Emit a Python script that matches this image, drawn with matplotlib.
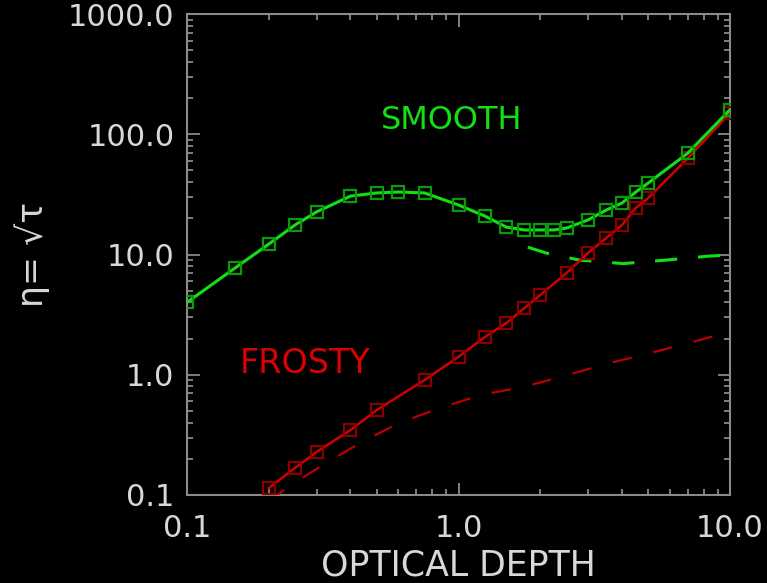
import matplotlib
matplotlib.use("Agg")
import matplotlib.pyplot as plt
from matplotlib.ticker import LogLocator, NullFormatter

# ---- data ----
tau_smooth = [0.1, 0.15, 0.2, 0.25, 0.3, 0.4, 0.5, 0.6, 0.75, 1.0, 1.25, 1.5,
              1.75, 2.0, 2.25, 2.5, 3.0, 3.5, 4.0, 4.5, 5.0, 7.0, 10.0]
eta_smooth = [4.0, 7.7, 12.2, 17.6, 22.6, 30.6, 32.5, 33.1, 32.5, 25.8, 20.9, 16.9,
              16.0, 16.0, 16.0, 16.6, 19.4, 23.4, 26.8, 33.1, 39.3, 69.8, 160.0]

tau_smooth_dash = [1.8, 2.1, 2.78, 4.04, 5.86, 8.37, 10.0]
eta_smooth_dash = [11.5, 10.3, 9.0, 8.4, 9.0, 9.7, 9.9]

tau_frosty = [0.2, 0.25, 0.3, 0.4, 0.5, 0.75, 1.0, 1.25, 1.5, 1.75, 2.0, 2.5,
              3.0, 3.5, 4.0, 4.5, 5.0, 7.0, 10.0]
eta_frosty = [0.114, 0.168, 0.228, 0.347, 0.509, 0.904, 1.41, 2.06, 2.69, 3.59,
              4.60, 7.02, 10.3, 13.7, 17.6, 24.4, 29.5, 63.4, 150.0]

tau_frosty_dash = [0.2, 0.236, 0.317, 0.434, 0.604, 0.855, 1.21, 1.73, 2.45,
                   3.49, 4.94, 7.06, 10.0]
eta_frosty_dash = [0.088, 0.117, 0.178, 0.271, 0.397, 0.529, 0.679, 0.791, 0.976,
                   1.23, 1.49, 1.84, 2.28]

x_ticks = [0.1, 1.0, 10.0]
x_tick_labels = ["0.1", "1.0", "10.0"]
y_ticks = [0.1, 1.0, 10.0, 100.0, 1000.0]
y_tick_labels = ["0.1", "1.0", "10.0", "100.0", "1000.0"]

# ---- style ----
plt.rcParams["lines.scale_dashes"] = False
bg = "black"
axis_col = "#8a8a8a"
text_col = "#d8d8d8"
green = "#12e012"
green_dark = "#0a9a0a"
red = "#d00000"
red_dark = "#8a0000"

fig = plt.figure(figsize=(7.67, 5.83), dpi=100, facecolor=bg)
ax = fig.add_axes([187/767, 88/583, 543/767, 481/583], facecolor=bg)
ax.set_xscale("log")
ax.set_yscale("log")
ax.set_xlim(0.1, 10.0)
ax.set_ylim(0.1, 1000.0)

ax.plot(tau_smooth, eta_smooth, color=green, lw=2.2, marker="s", ms=9,
        mfc="none", mec=green_dark, mew=1.6, zorder=4)
ax.plot(tau_smooth_dash, eta_smooth_dash, color=green, lw=2.2,
        linestyle=(0, (16, 15)), zorder=3)
ax.plot(tau_frosty, eta_frosty, color=red, lw=1.8, marker="s", ms=9,
        mfc="none", mec=red_dark, mew=1.6, zorder=3)
ax.plot(tau_frosty_dash, eta_frosty_dash, color="#b80000", lw=1.6,
        linestyle=(0, (14, 16)), zorder=3)

ax.text(0.946, 131, "SMOOTH", color=green, fontsize=23, ha="center", va="center")
ax.text(0.272, 1.25, "FROSTY", color="#dd0000", fontsize=24, ha="center", va="center")

for s in ax.spines.values():
    s.set_color(axis_col)
    s.set_linewidth(1.5)

ax.set_xticks(x_ticks)
ax.set_xticklabels(x_tick_labels)
ax.set_yticks(y_ticks)
ax.set_yticklabels(y_tick_labels)
ax.xaxis.set_minor_locator(LogLocator(base=10, subs=range(2, 10)))
ax.yaxis.set_minor_locator(LogLocator(base=10, subs=range(2, 10)))
ax.xaxis.set_minor_formatter(NullFormatter())
ax.yaxis.set_minor_formatter(NullFormatter())
ax.tick_params(which="both", direction="in", top=True, right=True,
               color=axis_col, width=1.3, labelcolor=text_col)
ax.tick_params(which="major", length=9, labelsize=22)
ax.tick_params(axis="x", which="major", pad=14)
ax.tick_params(axis="y", which="major", pad=9)
ax.tick_params(which="minor", length=4.5)

ax.set_xlabel("OPTICAL DEPTH", color=text_col, fontsize=25)
ax.xaxis.set_label_coords(0.5, -0.112)
ax.set_ylabel("η= √τ", color=text_col, fontsize=25)
ax.yaxis.label.set_va("center")
ax.yaxis.set_label_coords(-0.285, 0.5)

fig.savefig("out.png", dpi=100, facecolor=bg)
